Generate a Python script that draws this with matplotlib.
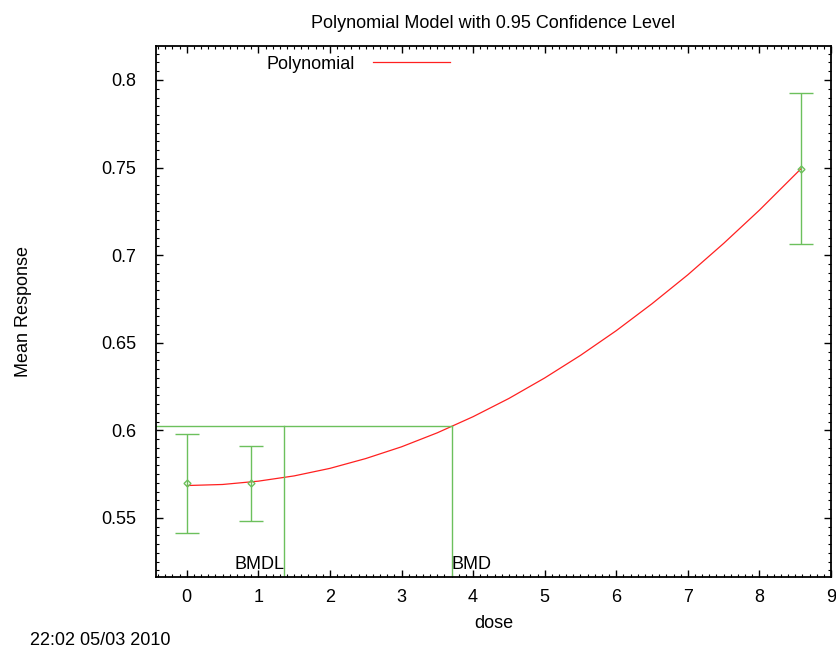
import numpy as np
import matplotlib.pyplot as plt
from matplotlib.ticker import MultipleLocator

plt.rcParams['font.family'] = ['Liberation Sans', 'DejaVu Sans']

# === datos observados (media e intervalo 0.95) ===
dose = [0.0, 0.9, 8.585]
mean = [0.5697, 0.5697, 0.7493]
ci_low = [0.5413, 0.5485, 0.7065]
ci_high = [0.5980, 0.5909, 0.7928]

# === curva del modelo polinomial ===
curve_dose = [0, 0.5, 1, 1.5, 2, 2.5, 3, 3.5, 4, 4.5, 5, 5.5, 6, 6.5, 7, 7.5, 8, 8.585]
curve_resp = [0.5685, 0.5691, 0.5710, 0.5740, 0.5783, 0.5839, 0.5906, 0.5986, 0.6078,
              0.6182, 0.6299, 0.6428, 0.6569, 0.6723, 0.6888, 0.7067, 0.7257, 0.7495]

# === BMD / BMDL ===
bmd = 3.70
bmdl = 1.36
bmr_level = 0.6023

green = '#6cc05c'
red = '#ff2020'
fs = 13

fig = plt.figure(figsize=(8.36, 6.48), dpi=100)
ax = fig.add_axes([0.1866, 0.1096, 0.8074, 0.8194])

ax.plot(curve_dose, curve_resp, color=red, lw=0.9, label='Polynomial', solid_joinstyle='round')

yerr = [np.array(mean) - np.array(ci_low), np.array(ci_high) - np.array(mean)]
ax.errorbar(dose, mean, yerr=yerr, fmt='D', ms=3.5, mfc='none', mec=green, mew=1.0,
            ecolor=green, elinewidth=1.0, capsize=8.5, capthick=1.0)

xmin, xmax = -0.43, 9.0
ymin, ymax = 0.5163, 0.8194
ax.plot([xmin, bmd], [bmr_level, bmr_level], color=green, lw=1.0)
ax.plot([bmdl, bmdl], [ymin, bmr_level], color=green, lw=1.0)
ax.plot([bmd, bmd], [ymin, bmr_level], color=green, lw=1.0)
ax.text(bmdl, ymin + 0.0022, 'BMDL', ha='right', va='bottom', fontsize=fs)
ax.text(bmd, ymin + 0.0022, 'BMD', ha='left', va='bottom', fontsize=fs)

ax.set_xlim(xmin, xmax)
ax.set_ylim(ymin, ymax)
ax.xaxis.set_major_locator(MultipleLocator(1))
ax.xaxis.set_minor_locator(MultipleLocator(0.1))
ax.yaxis.set_major_locator(MultipleLocator(0.05))
ax.yaxis.set_minor_locator(MultipleLocator(0.005))
ax.tick_params(which='both', direction='in', top=True, right=True, labelsize=fs)
ax.tick_params(axis='x', pad=9)
ax.tick_params(axis='y', pad=14)
ax.tick_params(which='major', length=5, width=1)
ax.tick_params(which='minor', length=2.5, width=0.8)
ax.set_yticks([0.55, 0.6, 0.65, 0.7, 0.75, 0.8])
ax.set_yticklabels(['0.55', '0.6', '0.65', '0.7', '0.75', '0.8'])
for s in ax.spines.values():
    s.set_linewidth(1.3)

ax.set_xlabel('dose', fontsize=fs, labelpad=6)
ax.set_ylabel('Mean Response', fontsize=fs, labelpad=50)
ax.set_title('Polynomial Model with 0.95 Confidence Level', fontsize=fs, pad=13)

leg = ax.legend(loc='upper left', bbox_to_anchor=(0.139, 1.0125), frameon=False, fontsize=fs,
                markerfirst=False, handlelength=4.3, handletextpad=1.0)

fig.text(0.036, 0.005, '22:02 05/03 2010', fontsize=fs, va='baseline')

fig.savefig('out.png')
